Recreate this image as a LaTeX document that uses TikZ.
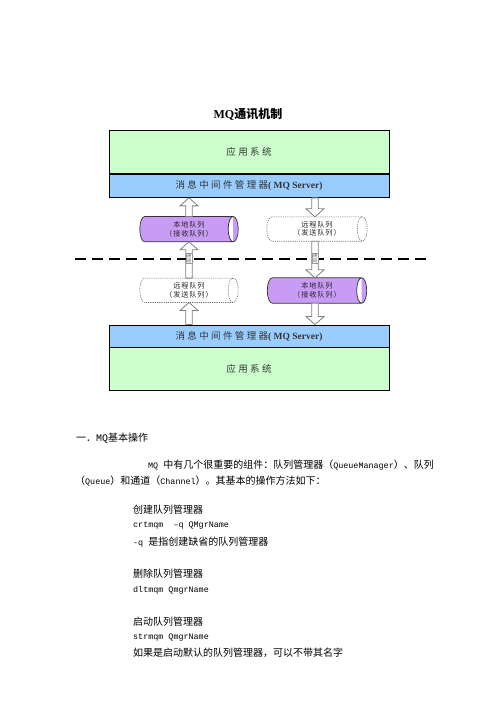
\documentclass[tikz,border=0pt]{standalone}
\usepackage{fontspec}
\setmainfont{Liberation Serif}
\newfontfamily\cjk{Noto Sans CJK SC}
\newfontfamily\cjksp[LetterSpace=25]{Noto Sans CJK SC}
\newfontfamily\cjkcyl[LetterSpace=12]{Noto Sans CJK SC}
\newfontfamily\mono{Liberation Mono}
\usetikzlibrary{calc}
\definecolor{appgreen}{RGB}{204,255,204}
\definecolor{mqblue}{RGB}{153,204,255}
\definecolor{qpurple}{RGB}{200,155,245}
\pgfdeclarelayer{back}
\pgfdeclarelayer{bg}
\pgfsetlayers{back,bg,main}
\newcommand\cyl[2]{%
 \path[#2] let \p1=(#1.north west), \p2=(#1.south east), \n1={(\y1-\y2)/2} in
 (\x1+5pt,\y1) -- (\x2-5pt,\y1) arc[start angle=90,end angle=-90,x radius=5pt,y radius=\n1]
 -- (\x1+5pt,\y2) arc[start angle=270,end angle=90,x radius=5pt,y radius=\n1] -- cycle
 (\x2-5pt,\y1) arc[start angle=90,end angle=270,x radius=5pt,y radius=\n1];}
\newcommand\blkup[2]{\draw[blk] let \p1=(#1), \p2=(#2) in
 (\x2-3.3pt,\y1) -- (\x2-3.3pt,\y2-8pt) -- (\x2-9pt,\y2-8pt) -- (\x2,\y2)
 -- (\x2+9pt,\y2-8pt) -- (\x2+3.3pt,\y2-8pt) -- (\x2+3.3pt,\y1) -- cycle;}
\newcommand\blkdown[2]{\draw[blk] let \p1=(#1), \p2=(#2) in
 (\x2-3.3pt,\y1) -- (\x2-3.3pt,\y2+8pt) -- (\x2-9pt,\y2+8pt) -- (\x2,\y2)
 -- (\x2+9pt,\y2+8pt) -- (\x2+3.3pt,\y2+8pt) -- (\x2+3.3pt,\y1) -- cycle;}
\tikzset{
 layerbox/.style={draw=black,line width=1pt,minimum width=280pt,inner sep=0pt,
   font=\cjksp\fontsize{9.5}{11}\selectfont,text=black!80},
 cylnode/.style={inner sep=0pt,align=center,text=black!85,
   font=\cjkcyl\fontsize{7.2}{8.5}\selectfont},
 solidcyl/.style={draw=black!80,line width=0.7pt,fill=qpurple},
 dashcyl/.style={draw=black!55,line width=0.6pt,dash pattern=on 1.2pt off 1pt,fill=white},
 blk/.style={draw=black!50,line width=0.8pt,fill=white},
 chan/.style={draw=black!40,line width=0.4pt,fill=white,inner sep=0.6pt,align=center,
   font=\cjk\fontsize{4.5}{5}\selectfont,text=black!60},
 sepline/.style={line width=1.1pt,dash pattern=on 11pt off 6pt},
 body/.style={anchor=west,inner sep=0pt,font=\fontsize{10}{12}\selectfont},
}
\begin{document}
\begin{tikzpicture}[x=1pt,y=-1pt]
\begin{pgfonlayer}{back}
\fill[white] (0,0) rectangle (496,702);
\end{pgfonlayer}
\useasboundingbox (0,0) rectangle (496,702);

\node[font=\fontsize{12}{14}\selectfont\bfseries] (title) at (248,114) {MQ{\cjk\bfseries 通讯机制}};

% top stack
\node[layerbox,fill=appgreen,minimum height=43.3pt] (tapp) at (249,152.3) {应用系统};
\node[layerbox,fill=mqblue,minimum height=23.3pt] (tmq) at (249,185.7)
  {消息中间件管理器{\rmfamily\bfseries\fontsize{9.5}{11}\selectfont( MQ Server)}};
% bottom stack
\node[layerbox,fill=mqblue,minimum height=22.3pt] (bmq) at (249,336.2)
  {消息中间件管理器{\rmfamily\bfseries\fontsize{9.5}{11}\selectfont( MQ Server)}};
\node[layerbox,fill=appgreen,minimum height=42.7pt] (bapp) at (249,368.7) {应用系统};

% queues
\node[cylnode,minimum width=98pt,minimum height=25pt] (ul) at (189,229.1) {本地队列\\（接收队列）};
\node[cylnode,minimum width=100pt,minimum height=24pt] (ur) at (317,229) {远程队列\\（发送队列）};
\node[cylnode,minimum width=98pt,minimum height=24pt] (ll) at (189,290.3) {远程队列\\（发送队列）};
\node[cylnode,minimum width=99pt,minimum height=25pt] (lr) at (317,290.5) {本地队列\\（接收队列）};
\begin{pgfonlayer}{bg}
\cyl{ul}{solidcyl}
\cyl{ur}{dashcyl}
\cyl{ll}{dashcyl}
\cyl{lr}{solidcyl}
\end{pgfonlayer}

% arrow columns
\coordinate (colL) at (189,0);
\coordinate (colR) at (315,0);

% block arrows
\blkup{bmq.north}{ll.south -| colL}
\blkup{ll.north}{ul.south -| colL}
\blkup{ul.north}{tmq.south -| colL}
\blkdown{tmq.south}{ur.north -| colR}
\blkdown{ur.south}{lr.north -| colR}
\blkdown{lr.south}{bmq.north -| colR}

% separator
\coordinate (sl) at (75,259);
\coordinate (sr) at (431,259);
\draw[sepline] (sl) -- (sr);
\node[chan] (c1) at (189,258) {通\\道};
\node[chan] (c2) at (315,258) {通\\道};

% body text
\node[body] (t1) at (76,438) {\cjk 一．{\mono MQ}基本操作};
\node[body] (t2) at (148,465) {{\mono\fontsize{8.4}{10}\selectfont MQ }{\cjk 中有几个很重要的组件：队列管理器（}{\mono\fontsize{8.4}{10}\selectfont QueueManager}{\cjk ）、队列}};
\node[body] (t3) at (75,481) {{\cjk （}{\mono\fontsize{8.4}{10}\selectfont Queue}{\cjk ）和通道（}{\mono\fontsize{8.4}{10}\selectfont Channel}{\cjk ）。其基本的操作方法如下：}};
\node[body] (t4) at (133,510) {\cjk 创建队列管理器};
\node[body] (t5) at (133,526) {\mono\fontsize{8.4}{10}\selectfont crtmqm \ –q QMgrName};
\node[body] (t6) at (133,542) {{\mono\fontsize{8.4}{10}\selectfont -q }{\cjk 是指创建缺省的队列管理器}};
\node[body] (t7) at (133,574) {\cjk 删除队列管理器};
\node[body] (t8) at (133,590) {\mono\fontsize{8.4}{10}\selectfont dltmqm QmgrName};
\node[body] (t9) at (133,622) {\cjk 启动队列管理器};
\node[body] (t10) at (133,638) {\mono\fontsize{8.4}{10}\selectfont strmqm QmgrName};
\node[body] (t11) at (133,653) {\cjk 如果是启动默认的队列管理器，可以不带其名字};
\end{tikzpicture}
\end{document}
